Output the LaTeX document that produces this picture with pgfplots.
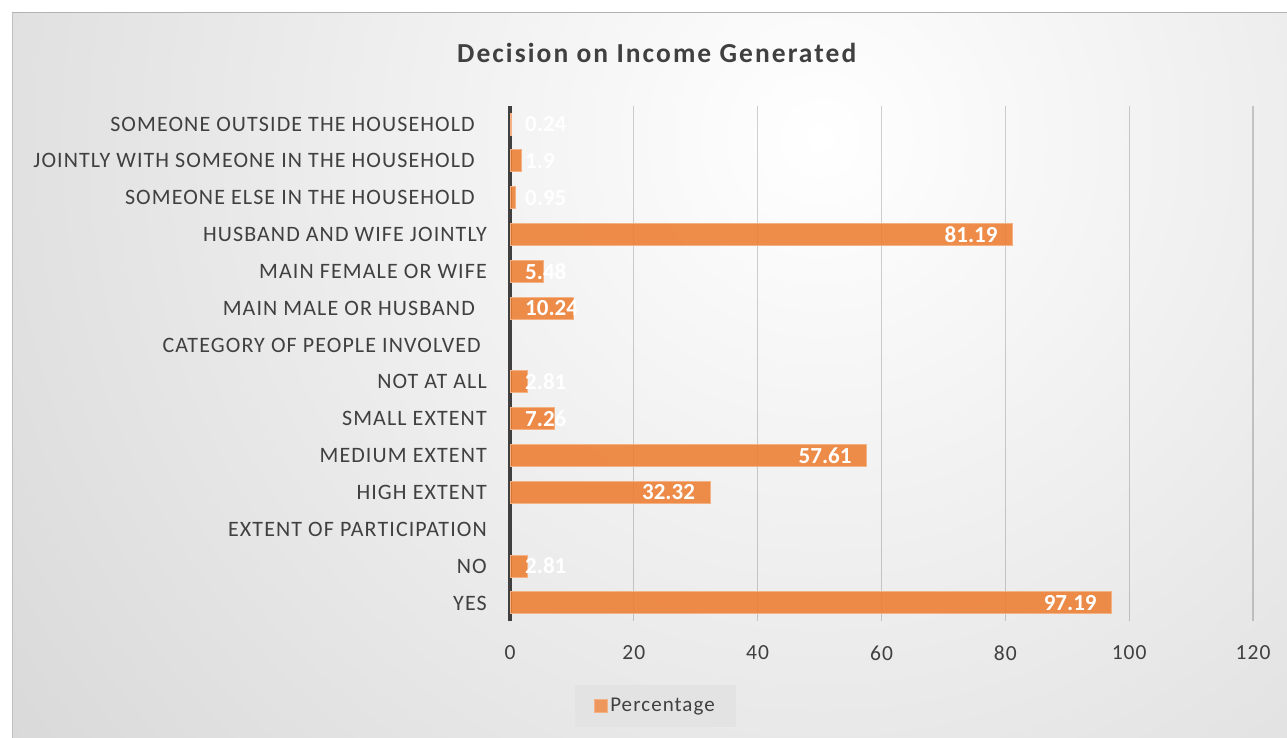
\documentclass[border=0pt]{standalone}
\usepackage{pgfplots}
\pgfplotsset{compat=1.18}
\usepackage{pgfplotstable}
\usepackage{fontspec}
\setmainfont{Carlito}
\newfontfamily\spaced{Carlito}[LetterSpace=5]
\newfontfamily\titlefont{Carlito}[LetterSpace=7.5]
\definecolor{barfill}{HTML}{ED7D31}
\definecolor{barline}{HTML}{F4B183}
\definecolor{txt}{HTML}{404040}

% bars
\pgfplotstableread{
y x
0 97.19
1 2.81
3 32.32
4 57.61
5 7.26
6 2.81
8 10.24
9 5.48
10 81.19
11 0.95
12 1.9
13 0.24
}\data
% labels set inside the bar end
\pgfplotstableread{
y lx lab
0 97.19 97.19
3 32.32 32.32
4 57.61 57.61
10 81.19 81.19
}\dataE
% labels set from the base (bar too short)
\pgfplotstableread{
y lx lab
1 0 2.81
5 0 7.26
6 0 2.81
8 0 10.24
9 0 5.48
11 0 0.95
12 0 1.9
13 0 0.24
}\dataW

\begin{document}
\begin{tikzpicture}
\path[use as bounding box] (0,0) rectangle (1287bp,738bp);
\fill[white] (0,0) rectangle (1287bp,738bp);
\begin{scope}
\clip (12bp,0) rectangle (1287bp,725bp);
\shade[inner color=white, outer color=black!28] (820bp,600bp) circle (1900bp);
\end{scope}
\draw[black!30, line width=1bp] (12bp,725bp) -- (1287bp,725bp);
\draw[black!25, line width=0.8bp] (12bp,0) -- (12bp,725bp);
\begin{axis}[
  at={(510bp,116.6bp)}, anchor=south west,
  scale only axis, width=743bp, height=515.8bp,
  xmin=0, xmax=120, ymin=-0.5, ymax=13.5,
  xtick={0,20,...,120}, ytick={0,...,13},
  yticklabels={YES, NO, EXTENT OF PARTICIPATION, HIGH EXTENT, MEDIUM EXTENT, SMALL EXTENT, NOT AT ALL, CATEGORY OF PEOPLE INVOLVED\kern6bp, MAIN MALE OR HUSBAND\kern12bp, MAIN FEMALE OR WIFE, HUSBAND AND WIFE JOINTLY, SOMEONE ELSE IN THE HOUSEHOLD\kern12bp, JOINTLY WITH SOMEONE IN THE HOUSEHOLD\kern12bp, SOMEONE OUTSIDE THE HOUSEHOLD\kern12bp},
  axis lines=left, axis line style={-},
  x axis line style={draw=none},
  y axis line style={draw=txt, line width=3.5bp},
  major tick length=0pt,
  xmajorgrids, grid style={black, opacity=0.18, line width=1.3bp},
  /pgf/number format/assume math mode=true,
  xticklabel style={font=\spaced\fontsize{21.5bp}{25bp}\selectfont, text=txt, inner sep=0pt, yshift=-24bp},
  yticklabel style={font=\spaced\fontsize{22bp}{26bp}\selectfont, text=txt, inner sep=0pt, xshift=-23bp},
  bar width=22bp,
  title={Decision on Income Generated},
  title style={at={(0.1975,1.091)}, anchor=center, font=\titlefont\fontsize{27.5bp}{32bp}\selectfont\bfseries, text=txt},
  legend style={at={(0.196,-0.164)}, anchor=center, draw=none, fill=black!11, font=\spaced\fontsize{21bp}{25bp}\selectfont, text=txt, inner xsep=19bp, inner ysep=12bp},
  legend image code/.code={\fill[barfill!88!white, draw=barline, line width=0.8bp] (0bp,-6.5bp) rectangle (13bp,6.5bp);},
]
\addplot[xbar, fill=barfill, fill opacity=0.88, draw=barline, line width=1bp] table[x=x, y=y] {\data};
\addlegendentry{Percentage}
\addplot[forget plot, draw=none, mark=none, nodes near coords, point meta=explicit symbolic,
  every node near coord/.append style={anchor=east, xshift=-15bp, text=white, font=\fontsize{23bp}{27bp}\selectfont\bfseries, inner sep=0pt}]
  table[x=lx, y=y, meta=lab] {\dataE};
\addplot[forget plot, draw=none, mark=none, nodes near coords, point meta=explicit symbolic,
  every node near coord/.append style={anchor=west, xshift=15bp, text=white, font=\fontsize{23bp}{27bp}\selectfont\bfseries, inner sep=0pt}]
  table[x=lx, y=y, meta=lab] {\dataW};
\end{axis}
\end{tikzpicture}
\end{document}
